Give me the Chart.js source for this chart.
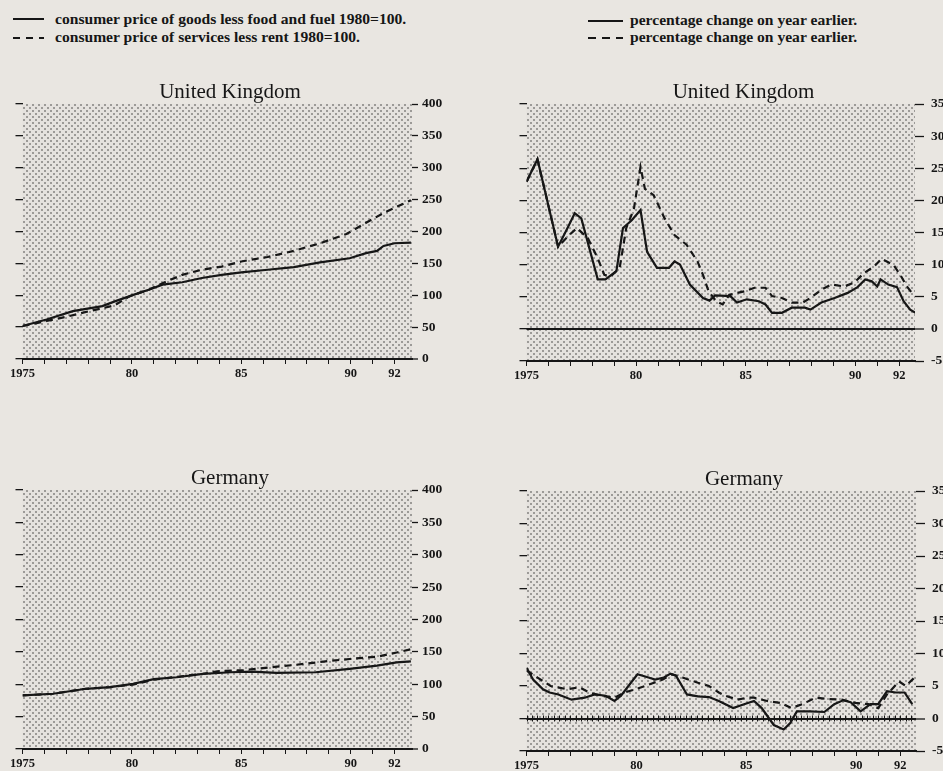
<!DOCTYPE html>
<html><head><meta charset="utf-8">
<script src="https://cdn.jsdelivr.net/npm/chart.js@4/dist/chart.umd.min.js"></script>
<style>
html,body{margin:0;padding:0;background:#e9e6e1;}
#page{position:relative;width:943px;height:771px;overflow:hidden;background:#e9e6e1;}
canvas{position:absolute;}
.lg{position:absolute;font-family:'Liberation Serif',serif;font-weight:bold;font-size:15.6px;color:#161616;white-space:nowrap;line-height:17px;}
.lg svg{position:absolute;}
</style></head>
<body><div id="page">
<div class="lg" style="left:0;top:0;width:470px;height:50px;">
 <svg style="left:13px;top:17px" width="32" height="4"><line x1="0" y1="2" x2="31" y2="2" stroke="#161616" stroke-width="2"/></svg>
 <span style="position:absolute;left:55px;top:10px">consumer price of goods less food and fuel 1980=100.</span>
 <svg style="left:13px;top:36px" width="32" height="4"><line x1="0" y1="2" x2="31" y2="2" stroke="#161616" stroke-width="2" stroke-dasharray="7,6"/></svg>
 <span style="position:absolute;left:55px;top:28px">consumer price of services less rent 1980=100.</span>
</div>
<div class="lg" style="left:470px;top:0;width:473px;height:50px;">
 <svg style="left:118px;top:19px" width="36" height="4"><line x1="0" y1="2" x2="35" y2="2" stroke="#161616" stroke-width="2"/></svg>
 <span style="position:absolute;left:160px;top:11px">percentage change on year earlier.</span>
 <svg style="left:118px;top:36px" width="36" height="4"><line x1="0" y1="2" x2="35" y2="2" stroke="#161616" stroke-width="2" stroke-dasharray="8,6"/></svg>
 <span style="position:absolute;left:160px;top:28px">percentage change on year earlier.</span>
</div>
<canvas id="c1" width="444" height="309" style="left:8px;top:80px"></canvas>
<canvas id="c2" width="463" height="311" style="left:512px;top:80px"></canvas>
<canvas id="c3" width="444" height="313" style="left:8px;top:466px"></canvas>
<canvas id="c4" width="464" height="314" style="left:512px;top:467px"></canvas>
</div>
<script>
// ---- data ----
const xTickLabels = {1975:'1975',1980:'80',1985:'85',1990:'90',1992:'92'};
const levelTicks = [0,50,100,150,200,250,300,350,400];
const pctTicks = [-5,0,5,10,15,20,25,30,35];

const ukGoodsLevelYears = [1975.0,1976.1,1977.3,1978.65,1979.25,1980.1,1980.8,1981.4,1982.3,1983.2,1984.1,1985.0,1986.2,1987.4,1988.6,1989.95,1990.7,1991.2,1991.5,1992.0,1992.75];
const ukGoodsLevel = [51.8,62,75,83,90.8,101,109,116.7,120.4,127,132,136,140,144,151.5,158,166,169.6,177.4,181.6,182.6];
const ukServLevelYears = [1975.0,1976.1,1977.15,1978.05,1979.2,1979.9,1980.8,1981.4,1982.3,1983.2,1984.1,1985.0,1986.2,1987.4,1988.6,1989.8,1990.7,1991.6,1992.75];
const ukServLevel = [51.8,59.6,67.4,75,84,98.6,109,119,132,140,145,153,160,169.6,181.6,196,213.7,230.8,249];

const deGoodsLevelYears = [1975.0,1976.4,1977.9,1979.0,1980.05,1981.0,1982.05,1983.25,1984.5,1985.5,1986.6,1988.4,1989.95,1991.2,1992.1,1992.75];
const deGoodsLevel = [82.8,85.3,93,95.5,100.6,108,110.8,116,118.5,119.5,117.5,118.5,123.7,128.7,133.8,135.3];
const deServLevelYears = [1975.0,1976.4,1977.9,1979.0,1980.05,1981.0,1982.05,1983.25,1983.9,1985.1,1986.3,1987.5,1988.75,1989.95,1991.2,1992.1,1992.75];
const deServLevel = [82.8,85.3,93,95.5,99.5,107,111.5,116,120,122,126,130,135,139,142.5,149,154];

const ukGoodsPctYears = [1975.0,1975.5,1976.44,1976.9,1977.2,1977.5,1978.25,1978.6,1979.1,1979.4,1979.8,1980.2,1980.5,1980.95,1981.5,1981.75,1982.0,1982.45,1983.05,1983.35,1983.6,1984.3,1984.6,1985.05,1985.6,1985.9,1986.2,1986.65,1987.1,1987.7,1987.95,1988.45,1989.05,1989.65,1990.1,1990.45,1990.75,1991.0,1991.15,1991.5,1991.9,1992.2,1992.5,1992.75];
const ukGoodsPct = [22.9,26.4,12.8,15.9,18.0,17.2,7.7,7.7,9.0,15.7,16.9,18.5,12.0,9.5,9.5,10.5,10.0,6.9,4.8,4.4,5.2,5.1,4.1,4.6,4.3,3.8,2.5,2.5,3.3,3.3,3.0,4.1,4.8,5.6,6.5,7.7,7.4,6.6,7.7,6.9,6.5,4.3,3.0,2.5];
const ukServPctYears = [1975.0,1975.5,1976.44,1976.95,1977.3,1977.8,1978.25,1978.55,1978.85,1979.25,1979.55,1979.9,1980.2,1980.4,1980.8,1981.3,1981.75,1982.3,1982.8,1983.05,1983.3,1983.65,1983.95,1984.25,1985.0,1985.4,1985.9,1986.2,1986.65,1987.1,1987.6,1987.95,1988.45,1988.9,1989.5,1989.95,1990.4,1990.85,1991.2,1991.75,1992.05,1992.35,1992.65];
const ukServPct = [22.9,26.4,12.8,14.6,15.7,14.1,11.0,8.4,8.2,9.5,15.7,18.7,25.2,21.8,20.8,17.2,14.6,13.1,10.5,8.4,5.9,4.3,3.8,5.3,5.9,6.4,6.4,5.1,4.8,4.1,4.1,4.8,6.1,6.9,6.6,7.2,8.7,9.7,10.9,9.9,8.4,6.6,5.3];

const deGoodsPctYears = [1975.0,1975.3,1975.75,1976.05,1976.45,1977.05,1977.65,1978.1,1978.6,1979.0,1979.3,1979.75,1980.05,1980.55,1980.85,1981.25,1981.55,1981.8,1982.3,1982.8,1983.3,1983.75,1984.4,1984.9,1985.35,1985.7,1986.25,1986.7,1987.0,1987.3,1987.9,1988.55,1989.0,1989.4,1989.75,1990.2,1990.65,1991.0,1991.4,1991.8,1992.2,1992.55];
const deGoodsPct = [7.8,6.0,4.5,4.0,3.7,2.9,3.2,3.7,3.5,2.7,3.5,5.5,6.8,6.3,6.0,6.3,6.9,6.6,3.7,3.4,3.3,2.7,1.6,2.2,2.7,1.6,-1.0,-1.7,-0.7,1.1,1.1,1.0,2.2,2.8,2.5,1.1,2.2,2.2,4.2,4.0,4.0,2.2];
const deServPctYears = [1975.0,1975.5,1976.1,1976.85,1977.4,1977.85,1978.4,1979.0,1979.45,1979.95,1980.4,1980.8,1981.2,1981.6,1982.1,1982.8,1983.3,1983.75,1984.05,1984.6,1985.05,1985.35,1985.95,1986.55,1987.05,1987.55,1988.15,1988.75,1989.35,1989.95,1990.55,1991.0,1991.4,1991.95,1992.25,1992.65];
const deServPct = [7.4,6.3,5.0,4.5,4.8,4.0,3.5,3.2,4.0,4.5,5.0,5.5,6.0,6.8,6.3,5.5,5.0,4.0,3.5,2.9,3.2,3.2,2.7,2.4,1.6,2.2,3.2,3.0,2.9,2.4,2.2,1.6,3.7,5.7,5.0,6.3];

// ---- helpers ----
const INK = '#161616';
function pts(xs, ys){ return xs.map((x,i)=>({x:x, y:ys[i]})); }

function makePattern(){
  const t = document.createElement('canvas'); t.width = 6; t.height = 6;
  const c = t.getContext('2d');
  c.fillStyle = '#e5e2de'; c.fillRect(0,0,6,6);
  c.fillStyle = '#9c9a97';
  c.fillRect(0,0,2,2); c.fillRect(3,3,2,2);
  return c.createPattern(t,'repeat');
}

const shadePlugin = {
  id:'shade',
  beforeDraw(chart){
    const a = chart.chartArea, ctx = chart.ctx;
    ctx.save();
    ctx.fillStyle = makePattern();
    ctx.fillRect(a.left, a.top, a.right-a.left, a.bottom-a.top);
    ctx.restore();
  }
};
const zeroTicksPlugin = {
  id:'zeroTicks',
  beforeDatasetsDraw(chart, args, opts){
    if(!opts || !opts.on) return;
    const xs = chart.scales.x, ys = chart.scales.y, ctx = chart.ctx;
    const y0 = ys.getPixelForValue(0);
    ctx.save(); ctx.strokeStyle = INK; ctx.lineWidth = 1;
    for(let q = xs.min; q <= xs.max + 1e-6; q += 0.25){
      const px = Math.round(xs.getPixelForValue(q)) + 0.5;
      ctx.beginPath(); ctx.moveTo(px, y0-3); ctx.lineTo(px, y0+3); ctx.stroke();
    }
    ctx.restore();
  }
};

function build(id, title, s1x, s1y, s2x, s2y, labels, yMin, yMax, yStep, xMax, pct, zeroTicks, rightW, rTick, rPad){
  const serif = 'Liberation Serif';
  new Chart(document.getElementById(id), {
    type:'line',
    data:{ datasets:[
      {label:labels[0], data:pts(s1x,s1y), borderColor:INK, borderWidth:2.2, pointRadius:0, tension:0, fill:false, yAxisID:'y'},
      {label:labels[1], data:pts(s2x,s2y), borderColor:INK, borderWidth:2.2, borderDash:[7,5], pointRadius:0, tension:0, fill:false, yAxisID:'y'}
    ]},
    options:{
      responsive:false, animation:false, devicePixelRatio:1,
      layout:{padding:0},
      plugins:{
        legend:{display:false}, tooltip:{enabled:false},
        title:{display:true, text:title, color:INK, padding:0,
          font:{family:serif, size:21, weight:'normal', lineHeight:'24px'}},
        zeroTicks:{on:zeroTicks}
      },
      scales:{
        x:{type:'linear', position:'bottom', min:1975, max:xMax,
          afterFit(s){ s.height = 30; },
          border:{display:true, color:INK, width:2},
          grid:{drawOnChartArea:false, drawTicks:true, tickLength:5, color:INK, lineWidth:1},
          ticks:{stepSize:1, autoSkip:false, maxRotation:0, includeBounds:false, padding:2, color:INK,
            font:{family:serif, size:12.5, weight:'bold'},
            callback:(v)=> xTickLabels[v] !== undefined ? xTickLabels[v] : ''}
        },
        yL:{type:'linear', position:'left', min:yMin, max:yMax,
          afterFit(s){ s.width = 10; },
          border:{display:false},
          grid:{drawOnChartArea:false, drawTicks:true, tickLength:7, color:INK, lineWidth:1.3},
          ticks:{display:false, stepSize:yStep}
        },
        y:{type:'linear', position:'right', min:yMin, max:yMax,
          afterFit(s){ s.width = rightW; },
          border:{display:false},
          grid:{drawOnChartArea:pct, drawTicks:true, tickLength:rTick,
            color:(c)=> (pct && c.tick && c.tick.value===0) ? INK : 'rgba(0,0,0,0)',
            lineWidth:(c)=> (c.tick && c.tick.value===0) ? 2 : 1,
            tickColor:INK, tickWidth:1.3},
          ticks:{stepSize:yStep, padding:rPad, color:INK, font:{family:serif, size:13.5, weight:'bold'},
            callback:(v)=> String(v)}
        }
      }
    },
    plugins:[shadePlugin, zeroTicksPlugin]
  });
}

const lvlLabels = ['consumer price of goods less food and fuel 1980=100.','consumer price of services less rent 1980=100.'];
const pctLabels = ['percentage change on year earlier.','percentage change on year earlier.'];

build('c1','United Kingdom', ukGoodsLevelYears, ukGoodsLevel, ukServLevelYears, ukServLevel, lvlLabels, levelTicks[0], levelTicks[levelTicks.length-1], 50, 1992.8, false, false, 40, 6, 4);
build('c2','United Kingdom', ukGoodsPctYears, ukGoodsPct, ukServPctYears, ukServPct, pctLabels, pctTicks[0], pctTicks[pctTicks.length-1], 5, 1992.72, true, false, 60, 9, 7);
build('c3','Germany', deGoodsLevelYears, deGoodsLevel, deServLevelYears, deServLevel, lvlLabels, levelTicks[0], levelTicks[levelTicks.length-1], 50, 1992.8, false, false, 40, 6, 4);
build('c4','Germany', deGoodsPctYears, deGoodsPct, deServPctYears, deServPct, pctLabels, pctTicks[0], pctTicks[pctTicks.length-1], 5, 1992.72, true, true, 60, 9, 7);
</script>
</body></html>
